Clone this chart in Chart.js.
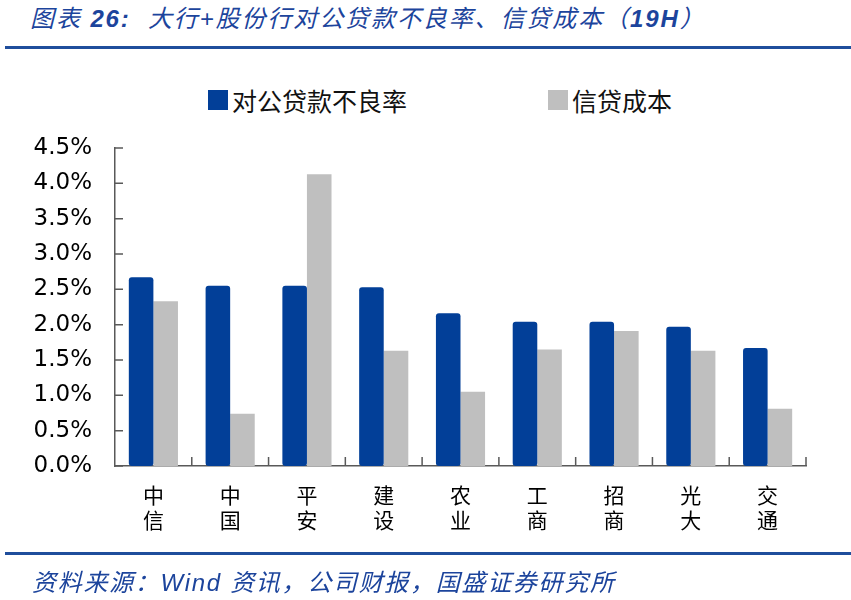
<!DOCTYPE html>
<html>
<head>
<meta charset="utf-8">
<script src="https://cdn.jsdelivr.net/npm/chart.js@4.4.0/dist/chart.umd.min.js"></script>
<style>
  body { margin: 0; background: #fff; }
  #wrap { position: relative; width: 851px; height: 600px; overflow: hidden; }
  #chart { position: absolute; left: 0; top: 0; }
  .title, .source {
    position: absolute; white-space: pre; line-height: 24px;
    font-family: "Liberation Sans", "Noto Sans CJK SC", sans-serif;
    font-style: italic; color: #1c449c;
  }
  .title { left: 30px; top: 7px; font-size: 24px; letter-spacing: 1.9px; }
  .title b { font-weight: bold; }
  .source { left: 32px; top: 571px; font-size: 24px; letter-spacing: 1.7px; }
  .rule { position: absolute; left: 5px; right: 0; height: 3px; background: #1f4e9c; }
  #legend {
    position: absolute; top: 82px; left: 208px; display: flex; align-items: center;
    font: 25px "Noto Sans CJK SC", sans-serif; color: #111;
  }
  #legend .item { display: flex; align-items: center; margin-right: 141px; }
  #legend .box { width: 20px; height: 20px; margin-right: 4px; }
</style>
</head>
<body>
<div id="wrap">
  <div class="title">图表 <b>26:</b>  大行+股份行对公贷款不良率、信贷成本（<b>19H</b>）</div>
  <div class="rule" style="top:46px"></div>
  <div id="legend"></div>
  <canvas id="chart" width="851" height="600"></canvas>
  <div class="rule" style="top:552px"></div>
  <div class="source">资料来源：Wind 资讯，公司财报，国盛证券研究所</div>
</div>
<script>
// data (in %)
const banks = [
  ["中", "信"], ["中", "国"], ["平", "安"], ["建", "设"], ["农", "业"],
  ["工", "商"], ["招", "商"], ["光", "大"], ["交", "通"],
];
const nplRatio = [2.67, 2.55, 2.55, 2.53, 2.16, 2.04, 2.04, 1.97, 1.67];
const creditCost = [2.33, 0.74, 4.13, 1.63, 1.05, 1.65, 1.91, 1.63, 0.81];
const yTicks = [0, 0.5, 1.0, 1.5, 2.0, 2.5, 3.0, 3.5, 4.0, 4.5];

const axisColor = "#595959";

// legend as html
const htmlLegend = {
  id: "htmlLegend",
  afterUpdate(chart) {
    const el = document.getElementById("legend");
    el.innerHTML = "";
    chart.data.datasets.forEach((ds) => {
      const item = document.createElement("div");
      item.className = "item";
      const box = document.createElement("span");
      box.className = "box";
      box.style.background = ds.backgroundColor;
      const txt = document.createElement("span");
      txt.textContent = ds.label;
      item.appendChild(box);
      item.appendChild(txt);
      el.appendChild(item);
    });
  },
};

// tick marks pointing into the plot
const innerTicks = {
  id: "innerTicks",
  afterDraw(chart) {
    const { ctx, scales: { x, y } } = chart;
    ctx.save();
    ctx.strokeStyle = axisColor;
    ctx.lineWidth = 1.5;
    ctx.beginPath();
    y.ticks.forEach((t) => {
      const py = y.getPixelForValue(t.value);
      ctx.moveTo(x.left, py);
      ctx.lineTo(x.left + 8, py);
    });
    const step = (x.right - x.left) / x.ticks.length;
    for (let i = 1; i <= x.ticks.length; i++) {
      const px = x.left + i * step;
      ctx.moveTo(px, y.bottom);
      ctx.lineTo(px, y.bottom - 9);
    }
    ctx.stroke();
    ctx.restore();
  },
};

new Chart(document.getElementById("chart"), {
  type: "bar",
  data: {
    labels: banks,
    datasets: [
      {
        label: "对公贷款不良率",
        data: nplRatio,
        backgroundColor: "#023f98",
        borderRadius: 3,
        borderSkipped: false,
      },
      {
        label: "信贷成本",
        data: creditCost,
        backgroundColor: "#bfbfbf",
      },
    ],
  },
  options: {
    responsive: false,
    animation: false,
    layout: { padding: { left: 0, right: 45, top: 148, bottom: 54 } },
    datasets: { bar: { categoryPercentage: 0.64, barPercentage: 1 } },
    plugins: {
      legend: { display: false },
      tooltip: { enabled: false },
    },
    scales: {
      x: {
        grid: { display: false, drawTicks: false },
        border: { display: true, color: axisColor, width: 1.5 },
        ticks: {
          color: "#000",
          padding: 16,
          font: { family: "'Noto Sans CJK SC'", size: 21, lineHeight: 1.2 },
        },
        afterFit: (s) => { s.height = 80; },
      },
      y: {
        min: 0,
        max: 4.5,
        afterBuildTicks: (s) => { s.ticks = yTicks.map((v) => ({ value: v })); },
        grid: { display: false, drawTicks: false },
        border: { display: true, color: axisColor, width: 1.5 },
        ticks: {
          color: "#000",
          padding: 23,
          font: { family: "'DejaVu Sans'", size: 23 },
          callback: (v) => v.toFixed(1) + "%",
        },
        afterFit: (s) => { s.width = 115; },
      },
    },
  },
  plugins: [htmlLegend, innerTicks],
});
</script>
</body>
</html>
